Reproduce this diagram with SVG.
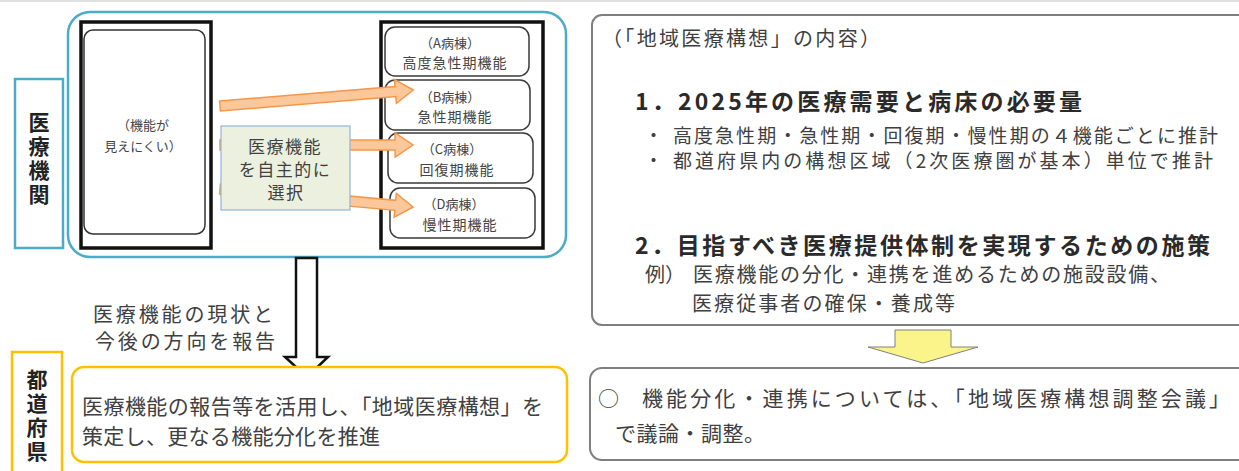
<svg xmlns="http://www.w3.org/2000/svg" width="1239" height="471" viewBox="0 0 1239 471">
<style>
  text { font-family: "Noto Sans CJK JP", "Noto Sans", sans-serif; dominant-baseline: central; fill: #404040; }
  .vlbl { font-weight: bold; fill: #222; font-size: 21px; writing-mode: vertical-rl; letter-spacing: 3px; dominant-baseline: auto; }
  .sm { font-size: 13px; text-anchor: middle; fill: #444; }
  .md { font-size: 14px; text-anchor: middle; fill: #444; letter-spacing: 1px; }
  .t20 { font-size: 20px; }
  .t19 { font-size: 19px; }
  .t21 { font-size: 21px; }
  .sel { font-size: 17px; text-anchor: middle; letter-spacing: 1.5px; }
  .hd { font-size: 23px; font-weight: bold; fill: #2a2a2a; }
  .ward { fill: #fff; stroke: #3a3a3a; stroke-width: 1.5; }
  .col { fill: #fff; stroke: #111; stroke-width: 3.5; }
  .gbox { fill: #fff; stroke: #7f7f7f; stroke-width: 2; }
  .oarr { fill: #fbc89c; stroke: #f79646; stroke-width: 1.5; }
</style>
<defs>
  <path id="oarrow" d="M0,-5 H176 V-12 L194,0 L176,12 V5 H0 Z"/>
</defs>
<rect x="0" y="0" width="1239" height="471" fill="#fff"/>
<line x1="0" y1="1" x2="1239" y2="1" stroke="#e0e0e0" stroke-width="2"/>

<g id="label-iryokikan">
  <rect x="15" y="79" width="48" height="169" fill="#fff" stroke="#4bacc6" stroke-width="2.5"/>
  <text class="vlbl" x="39" y="112">医療機関</text>
</g>

<g id="hospital-container">
  <rect x="68" y="12" width="498" height="245" rx="22" fill="#fff" stroke="#4bacc6" stroke-width="2.5"/>
</g>

<g id="hospital-left">
  <rect class="col" x="81" y="22" width="130" height="226"/>
  <rect x="84" y="30" width="121" height="204" rx="9" fill="#fff" stroke="#333" stroke-width="1.5"/>
  <text class="sm" x="143" y="124">（機能が</text>
  <text class="sm" x="143" y="145">見えにくい）</text>
</g>

<g id="hospital-right">
  <rect class="col" x="381" y="22" width="162" height="226"/>
</g>
<g id="ward-a">
  <rect class="ward" x="385" y="27" width="144" height="49" rx="10"/>
  <text class="sm" x="450" y="42">（A病棟）</text>
  <text class="md" x="455" y="62">高度急性期機能</text>
</g>
<g id="ward-b">
  <rect class="ward" x="385" y="80" width="145" height="50" rx="10"/>
  <text class="sm" x="450" y="96">（B病棟）</text>
  <text class="md" x="455" y="116">急性期機能</text>
</g>
<g id="ward-c">
  <rect class="ward" x="388" y="133" width="145" height="50" rx="10"/>
  <text class="sm" x="452" y="148">（C病棟）</text>
  <text class="md" x="457" y="169">回復期機能</text>
</g>
<g id="ward-d">
  <rect class="ward" x="390" y="188" width="145" height="50" rx="10"/>
  <text class="sm" x="454" y="203">（D病棟）</text>
  <text class="md" x="460" y="224">慢性期機能</text>
</g>

<g id="connectors">
  <use href="#oarrow" class="oarr" transform="translate(220,106) rotate(-4.74)"/>
  <use href="#oarrow" class="oarr" transform="translate(220,145) scale(0.995,1)"/>
  <use href="#oarrow" class="oarr" transform="translate(220,189) rotate(5.33)"/>
  <path d="M296,258 V357 H285 L307,377 L328,357 H317 V258 Z" fill="#fff" stroke="#111" stroke-width="2.5" stroke-linejoin="miter"/>
  <path d="M895,330 H951 V347 H978 L923,363 L868,347 H895 Z" fill="#faf48a" stroke="#808080" stroke-width="1"/>
</g>

<g id="select-box">
  <rect x="221" y="126" width="129" height="84" fill="#ebf1de" stroke="#95b3d7" stroke-width="1.2"/>
  <text class="sel"><tspan x="285" y="145">医療機能</tspan><tspan x="285" y="168">を自主的に</tspan><tspan x="286" y="191">選択</tspan></text>
</g>

<g id="report-label">
  <text class="t20"><tspan x="93" y="313" textLength="180" lengthAdjust="spacing">医療機能の現状と</tspan><tspan x="95" y="340" textLength="180" lengthAdjust="spacing">今後の方向を報告</tspan></text>
</g>

<g id="label-todofuken">
  <rect x="12" y="352" width="50" height="130" fill="#fff" stroke="#ffc000" stroke-width="2.5"/>
  <text class="vlbl" x="37" y="369">都道府県</text>
</g>

<g id="prefecture-box">
  <rect x="72" y="367" width="495" height="95" rx="12" fill="#fff" stroke="#ffc000" stroke-width="2.5"/>
  <text class="t21"><tspan x="82" y="405" textLength="461" lengthAdjust="spacing">医療機能の報告等を活用し、「地域医療構想」を</tspan><tspan x="82" y="435" textLength="298" lengthAdjust="spacing">策定し、更なる機能分化を推進</tspan></text>
</g>

<g id="vision-box">
  <rect class="gbox" x="592" y="15" width="670" height="310" rx="10"/>
  <text class="t20" x="602" y="37" textLength="278" lengthAdjust="spacing">（「地域医療構想」の内容）</text>
  <text class="hd" x="635" y="100" textLength="447" lengthAdjust="spacing">1．2025年の医療需要と病床の必要量</text>
  <text class="t19" x="644" y="134">・</text>
  <text class="t19" x="673" y="134" textLength="545" lengthAdjust="spacing">高度急性期・急性期・回復期・慢性期の４機能ごとに推計</text>
  <text class="t19" x="644" y="159">・</text>
  <text class="t19" x="673" y="159" textLength="540" lengthAdjust="spacing">都道府県内の構想区域（2次医療圏が基本）単位で推計</text>
  <text class="hd" x="635" y="244" textLength="575" lengthAdjust="spacing">2．目指すべき医療提供体制を実現するための施策</text>
  <text class="t20" x="645" y="273">例）</text>
  <text class="t20" x="693" y="273" textLength="477" lengthAdjust="spacing">医療機能の分化・連携を進めるための施設設備、</text>
  <text class="t20" x="692" y="302" textLength="263" lengthAdjust="spacing">医療従事者の確保・養成等</text>
</g>

<g id="council-box">
  <rect class="gbox" x="590" y="368" width="670" height="92" rx="12"/>
  <text class="t21" x="598" y="397">○</text>
  <text class="t21" x="642" y="397" textLength="588" lengthAdjust="spacing">機能分化・連携については、「地域医療構想調整会議」</text>
  <text class="t21" x="615" y="432" textLength="150" lengthAdjust="spacing">で議論・調整。</text>
</g>
</svg>
